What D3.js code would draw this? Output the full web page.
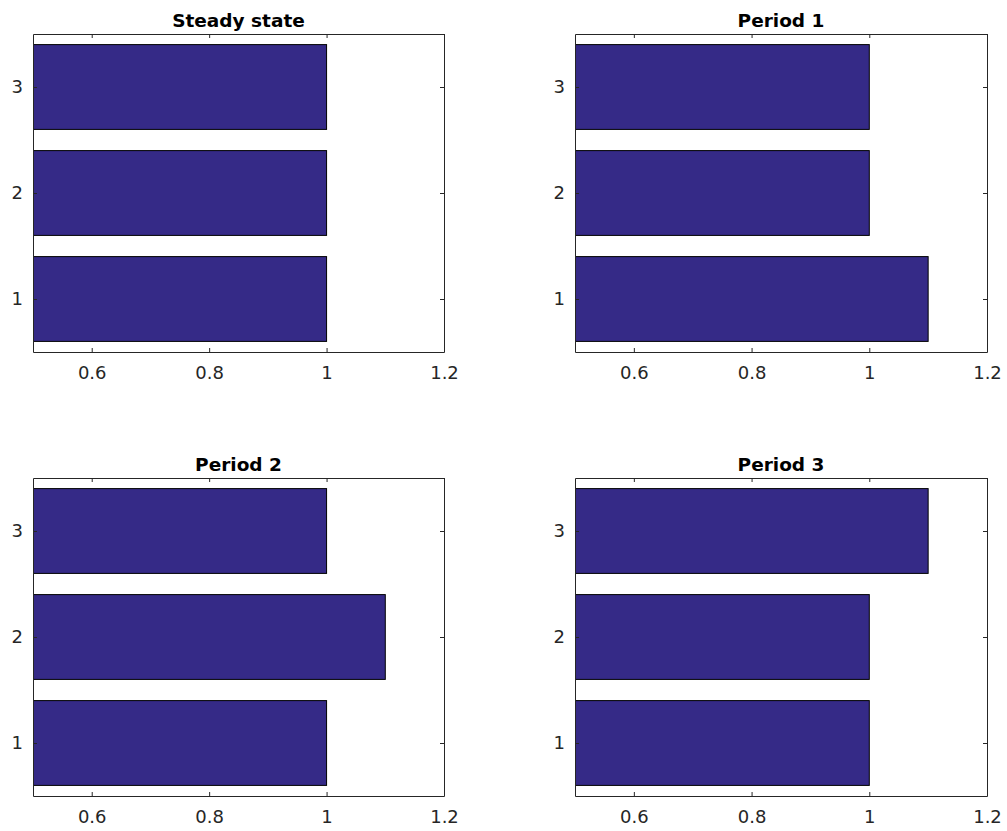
<!DOCTYPE html>
<html><head><meta charset="utf-8">
<script src="https://cdn.jsdelivr.net/npm/d3@7"></script>
<style>body{margin:0;background:#fff}svg{display:block}</style>
</head><body>
<script>
const titles = ["Steady state", "Period 1", "Period 2", "Period 3"];
const categories = [1, 2, 3];
const steadyState = [1, 1, 1];
const period1 = [1.1, 1, 1];
const period2 = [1, 1.1, 1];
const period3 = [1, 1, 1.1];
const seriesList = [steadyState, period1, period2, period3];
const xTicks = [0.6, 0.8, 1, 1.2];
const yTicks = [1, 2, 3];
const xDomain = [0.5, 1.2];
const yDomain = [0.5, 3.5];

const W = 1007, H = 831;
const svg = d3.select("body").append("svg").attr("width", W).attr("height", H);
const panels = [
  {x0: 33, x1: 444, y0: 34, y1: 352},
  {x0: 575, x1: 987, y0: 34, y1: 352},
  {x0: 33, x1: 444, y0: 478, y1: 796},
  {x0: 575, x1: 987, y0: 478, y1: 796}
];
const textColor = "#262626";
const font = "DejaVu Sans, sans-serif";

panels.forEach((p, i) => {
  const x = d3.scaleLinear().domain(xDomain).range([p.x0, p.x1]);
  const y = d3.scaleLinear().domain(yDomain).range([p.y1, p.y0]);
  const bandH = y(0) - y(0.8);
  const g = svg.append("g");
  const cid = "clip" + i;
  g.append("clipPath").attr("id", cid).append("rect")
    .attr("x", p.x0).attr("y", p.y0).attr("width", p.x1 - p.x0).attr("height", p.y1 - p.y0);
  g.append("g").attr("clip-path", `url(#${cid})`)
    .selectAll("rect").data(categories).join("rect")
    .attr("x", x(0))
    .attr("y", (d) => y(d + 0.4))
    .attr("width", (d, j) => x(seriesList[i][j]) - x(0))
    .attr("height", bandH)
    .attr("fill", "#352a87")
    .attr("stroke", "#000").attr("stroke-width", 1);

  const tl = 4;
  const axB = d3.axisBottom(x).tickValues(xTicks).tickFormat(d3.format("")).tickSizeInner(-tl).tickSizeOuter(0).tickPadding(14);
  const axT = d3.axisTop(x).tickValues(xTicks).tickFormat("").tickSizeInner(-tl).tickSizeOuter(0);
  const axL = d3.axisLeft(y).tickValues(yTicks).tickFormat(d3.format("d")).tickSizeInner(-tl).tickSizeOuter(0).tickPadding(10);
  const axR = d3.axisRight(y).tickValues(yTicks).tickFormat("").tickSizeInner(-tl).tickSizeOuter(0);
  const style = (sel) => {
    sel.selectAll(".domain").attr("stroke", textColor).attr("stroke-width", 1);
    sel.selectAll(".tick line").attr("stroke", textColor);
    sel.selectAll("text").attr("fill", textColor).style("font-family", font).style("font-size", "18px");
  };
  g.append("g").attr("transform", `translate(0,${p.y1})`).call(axB).call(style);
  g.append("g").attr("transform", `translate(0,${p.y0})`).call(axT).call(style);
  g.append("g").attr("transform", `translate(${p.x0},0)`).call(axL).call(style);
  g.append("g").attr("transform", `translate(${p.x1},0)`).call(axR).call(style);

  g.append("text").attr("x", (p.x0 + p.x1) / 2).attr("y", p.y0 - 7)
    .attr("text-anchor", "middle")
    .style("font-family", font).style("font-size", "18.5px").style("font-weight", "bold")
    .attr("fill", "#000").text(titles[i]);
});
</script>
</body></html>
